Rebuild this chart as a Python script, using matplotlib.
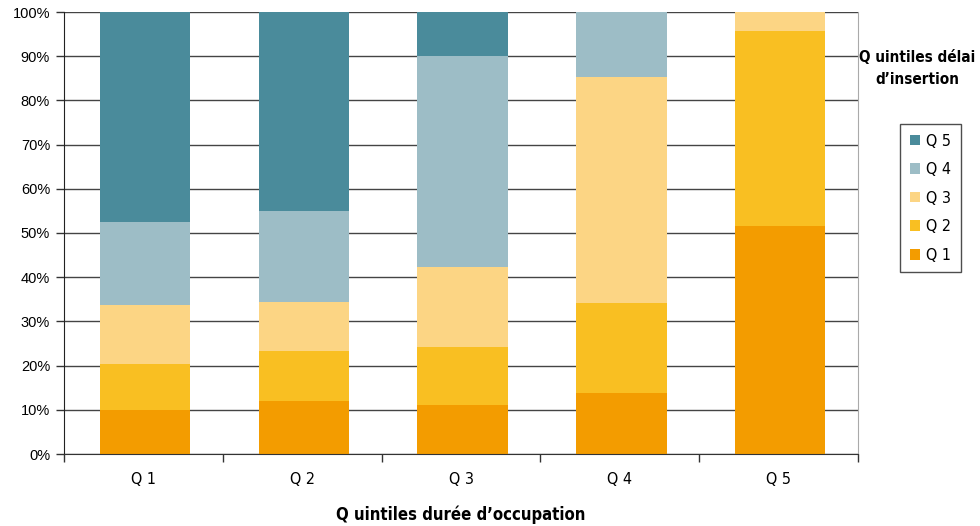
import numpy as np
import matplotlib.pyplot as plt
from matplotlib.patches import Patch

# categories on x (quintiles of occupation duration)
categories = ["Q 1", "Q 2", "Q 3", "Q 4", "Q 5"]
# stacked shares (%) per insertion-delay quintile, bottom to top
q1 = [10.0, 12.0, 11.1, 13.8, 51.6]
q2 = [10.4, 11.3, 13.0, 20.4, 44.2]
q3 = [13.3, 11.1, 18.2, 51.2, 4.2]
q4 = [18.8, 20.6, 47.8, 14.6, 0.0]
q5 = [47.5, 45.0, 9.9, 0.0, 0.0]
series_labels = ["Q 1", "Q 2", "Q 3", "Q 4", "Q 5"]
colors = ["#F39C00", "#F9BF22", "#FCD584", "#9DBDC6", "#4A8B9B"]

narrow = ["DejaVu Sans", "Liberation Sans"]
regular = ["Liberation Sans", "DejaVu Sans"]

fig = plt.figure(figsize=(9.8, 5.26), dpi=100)
ax = fig.add_axes([64 / 980, 1 - 454 / 526, (858 - 64) / 980, (454 - 12) / 526])

x = np.arange(len(categories))
bottom = np.zeros(len(categories))
for vals, col, lab in zip([q1, q2, q3, q4, q5], colors, series_labels):
    ax.bar(x + 0.01, vals, width=0.57, bottom=bottom, color=col, label=lab, zorder=2)
    bottom += np.array(vals)

ax.set_xlim(-0.5, 4.5)
ax.set_ylim(0, 100)

# gridlines
ax.set_yticks(np.arange(0, 101, 10))
ax.set_yticklabels(["%d%%" % v for v in range(0, 101, 10)], family=regular, fontsize=10.5)
ax.yaxis.grid(True, color="#444444", linewidth=1, zorder=0)
ax.set_axisbelow(True)

# x ticks at category boundaries, labels centred
ax.set_xticks(np.arange(-0.5, 5, 1))
ax.set_xticklabels([])
ax.set_xticks(x, minor=True)
ax.set_xticklabels(categories, minor=True, family=narrow, fontstretch="condensed", fontsize=11.5)
ax.tick_params(axis="x", which="major", length=6, width=1, direction="out", color="#333333")
ax.tick_params(axis="x", which="minor", length=0, pad=13)
ax.tick_params(axis="y", length=6, width=1, direction="out", color="#333333", pad=4)

ax.spines["top"].set_visible(False)
ax.spines["right"].set_color("#aaaaaa")
ax.spines["left"].set_color("#222222")
ax.spines["bottom"].set_color("#333333")

ax.set_xlabel("Q uintiles durée d\u2019occupation", family=narrow, fontstretch="condensed",
              fontsize=12, fontweight="bold", labelpad=13)

fig.text(917 / 980, 1 - 68.5 / 526, "Q uintiles délai\nd\u2019insertion", family=narrow,
         fontstretch="condensed", fontsize=11, fontweight="bold", ha="center", va="center",
         linespacing=1.5)

handles = [Patch(facecolor=c, edgecolor="none") for c in colors][::-1]
leg = fig.legend(handles, series_labels[::-1], loc="upper left",
                 bbox_to_anchor=(900 / 980, 1 - 124 / 526), borderaxespad=0,
                 frameon=True, fancybox=False,
                 edgecolor="#222222", handlelength=0.65, handleheight=0.65,
                 handletextpad=0.4, labelspacing=0.85, borderpad=0.6,
                 prop={"family": narrow, "stretch": "condensed", "size": 11.5})
leg.get_frame().set_linewidth(1)

fig.savefig("out.png", dpi=100)
